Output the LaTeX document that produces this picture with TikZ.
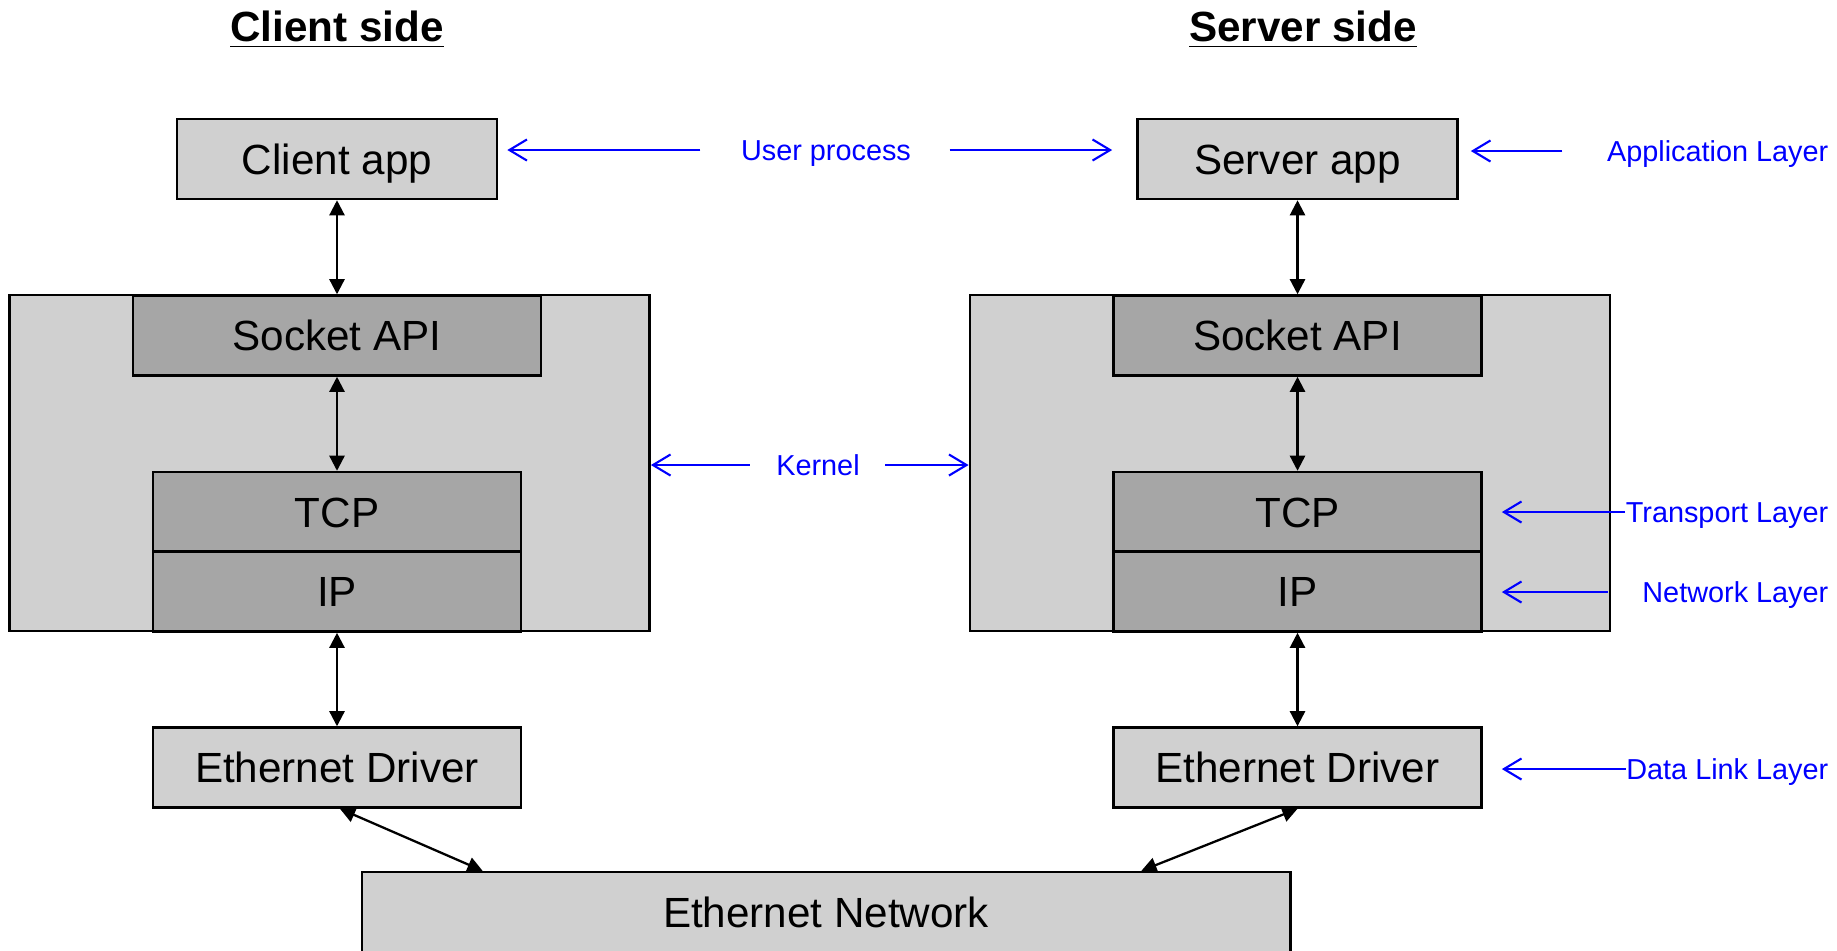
\documentclass[tikz,border=0pt]{standalone}
\usepackage{fontspec}
\setmainfont{Liberation Sans}
\usetikzlibrary{arrows.meta,calc}
\definecolor{boxlight}{HTML}{D0D0D0}
\definecolor{boxdark}{HTML}{A6A6A6}
\definecolor{lblblue}{HTML}{0000FF}

\begin{document}
\begin{tikzpicture}[x=0.01cm,y=-0.01cm,
  blk/.style={draw=black,line width=0.7pt,fill=boxlight,minimum width=3.2cm,minimum height=0.8cm,inner sep=0pt,text height=0.3cm,text depth=0pt,font=\fontsize{12}{14}\selectfont},
  inblk/.style={blk,fill=boxdark,minimum width=3.68cm},
  kbox/.style={draw=black,line width=0.7pt,fill=boxlight,minimum width=6.4cm,minimum height=3.36cm,inner sep=0pt},
  hdr/.style={font=\fontsize{12}{14}\selectfont\bfseries,inner sep=0pt,anchor=base},
  lbl/.style={text=lblblue,font=\fontsize{8.2}{10}\selectfont,inner sep=0pt,text height=0.21cm,text depth=0pt},
  arr/.style={{Triangle[length=4.3pt,width=4.3pt]}-{Triangle[length=4.3pt,width=4.3pt]},line width=0.65pt},
  barr/.style={-{Straight Barb[length=5pt,width=6pt]},lblblue,line width=0.6pt}
]
\useasboundingbox (0,0) rectangle (1837,950);

\node[hdr] (chdr) at (337,41) {\underline{Client side}};
\node[hdr] (shdr) at (1303,41) {\underline{Server side}};

\node[kbox] (kernL) at (329.5,463) {};
\node[kbox] (kernR) at (1290,463) {};

\node[blk] (capp) at (337,159) {Client app};
\node[blk] (sapp) at (1297.5,159) {Server app};

\node[inblk,minimum width=4.08cm] (sockL) at (337,335.5) {Socket API};
\node[inblk] (sockR) at (1297.5,335.5) {Socket API};

\node[inblk] (tcpL) at (337,512) {TCP};
\node[inblk] (ipL) at (337,591.5) {IP};
\node[inblk] (tcpR) at (1297.5,512) {TCP};
\node[inblk] (ipR) at (1297.5,591.5) {IP};

\node[blk,minimum width=3.68cm] (ethL) at (337,767.5) {Ethernet Driver};
\node[blk,minimum width=3.68cm] (ethR) at (1297.5,767.5) {Ethernet Driver};

\node[blk,minimum width=9.28cm] (net) at (826,912) {Ethernet Network};

\draw[arr] (capp.south) -- (sockL.north);
\draw[arr] (sockL.south) -- (tcpL.north);
\draw[arr] (ipL.south) -- (ethL.north);
\draw[arr] (sapp.south) -- (sockR.north);
\draw[arr] (sockR.south) -- (tcpR.north);
\draw[arr] (ipR.south) -- (ethR.north);
\draw[arr] ([xshift=0.03cm]ethL.south) -- ([xshift=1.22cm]net.north west);
\draw[arr] (ethR.south) -- ([xshift=-1.5cm]net.north east);

\node[lbl] (uproc) at (826,150) {User process};
\node[lbl] (kn) at (818,465) {Kernel};
\node[lbl,anchor=east] (alay) at (1829,151) {Application Layer};
\node[lbl,anchor=east] (tlay) at (1829,512) {Transport Layer};
\node[lbl,anchor=east] (nlay) at (1829,592) {Network Layer};
\node[lbl,anchor=east] (dlay) at (1829,769) {Data Link Layer};

\draw[barr,shorten >=0.09cm] ([xshift=-0.4cm]uproc.west) -- (capp.east |- uproc.west);
\draw[barr,shorten >=0.24cm] ([xshift=0.38cm]uproc.east) -- (sapp.west |- uproc.east);
\draw[barr,shorten >=0.12cm] ([xshift=-0.44cm]alay.west) -- (sapp.east |- alay.west);
\draw[barr] ([xshift=-0.26cm]kn.west) -- (kernL.east |- kn.west);
\draw[barr] ([xshift=0.25cm]kn.east) -- (kernR.west |- kn.east);
\draw[barr,shorten >=0.19cm] (tlay.west) -- (tcpR.east |- tlay.west);
\draw[barr,shorten >=0.19cm] ([xshift=-0.34cm]nlay.west) -- (ipR.east |- nlay.west);
\draw[barr,shorten >=0.19cm] (dlay.west) -- (ethR.east |- dlay.west);
\end{tikzpicture}
\end{document}
